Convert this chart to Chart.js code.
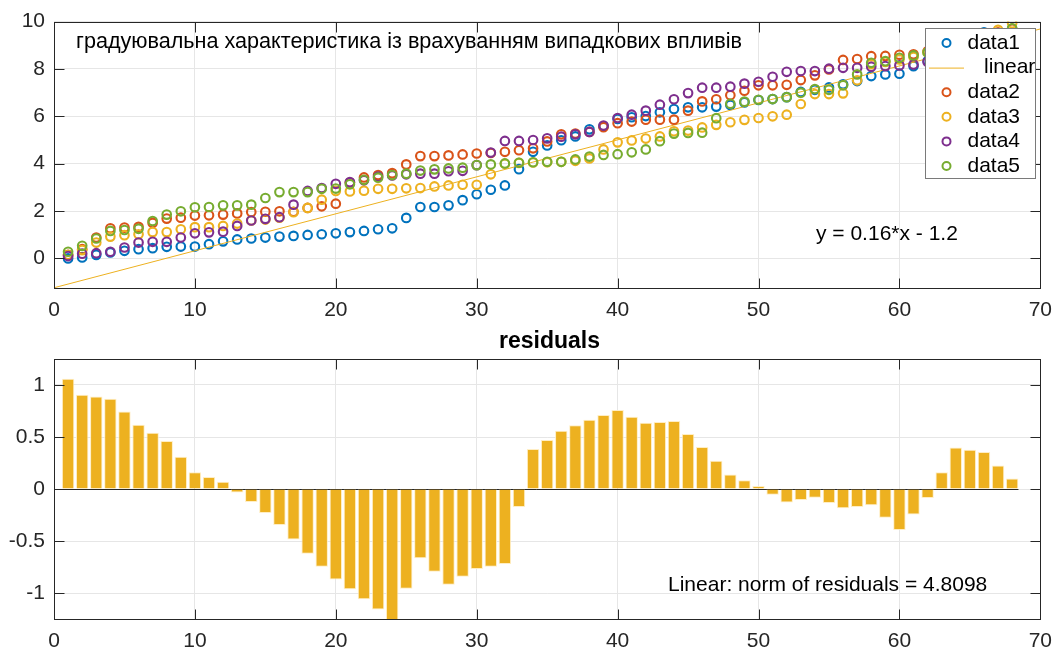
<!DOCTYPE html>
<html><head><meta charset="utf-8">
<script src="https://cdn.jsdelivr.net/npm/chart.js@4.4.1/dist/chart.umd.min.js"></script>
<style>
html,body{margin:0;padding:0;background:#fff;}
#wrap{position:relative;width:1062px;height:651px;overflow:hidden;}
#c1{position:absolute;left:0;top:0;}
#c2{position:absolute;left:0;top:330px;}
</style></head><body>
<div id="wrap"><canvas id="c1" width="1062" height="330"></canvas><canvas id="c2" width="1062" height="321"></canvas></div>
<script>
// ---------- data ----------
const xValues = [1,2,3,4,5,6,7,8,9,10,11,12,13,14,15,16,17,18,19,20,21,22,23,24,25,26,27,28,29,30,31,32,33,34,35,36,37,38,39,40,41,42,43,44,45,46,47,48,49,50,51,52,53,54,55,56,57,58,59,60,61,62,63,64,65,66,67,68];
const data1 = [0.00,0.04,0.15,0.25,0.32,0.39,0.43,0.49,0.50,0.50, 0.60,0.72,0.80,0.84,0.88,0.92,0.95,0.99,1.02,1.06, 1.11,1.16,1.23,1.27,1.71,2.17,2.17,2.24,2.46,2.71, 2.90,3.08,3.77,4.50,4.77,4.99,5.15,5.45,5.58,5.89, 5.96,6.01,6.17,6.31,6.38,6.38,6.41,6.48,6.59,6.69, 6.73,6.81,7.03,7.12,7.22,7.35,7.49,7.70,7.77,7.80, 8.12,8.34,8.75,9.14,9.28,9.55,9.45,9.47];
const data2 = [0.15,0.39,0.88,1.27,1.30,1.33,1.50,1.68,1.72,1.81, 1.82,1.85,1.90,1.96,1.97,1.99,1.97,2.13,2.20,2.31, 3.20,3.42,3.52,3.60,3.97,4.32,4.32,4.35,4.39,4.43, 4.45,4.50,4.57,4.65,4.94,5.24,5.27,5.34,5.54,5.71, 5.78,5.86,5.86,5.86,6.24,6.63,6.72,6.89,7.08,7.31, 7.31,7.33,7.53,7.73,7.98,8.38,8.42,8.54,8.55,8.60, 8.62,8.75,8.90,9.05,9.20,9.35,9.55,9.70];
const data3 = [0.14,0.35,0.67,0.92,0.98,1.02,1.11,1.11,1.23,1.32, 1.32,1.37,1.47,1.60,1.64,1.72,1.95,2.13,2.48,2.85, 2.83,2.86,2.94,2.94,2.96,2.97,3.04,3.08,3.11,3.11, 3.55,4.00,4.03,4.05,4.06,4.08,4.12,4.22,4.60,4.90, 4.98,5.06,5.15,5.37,5.40,5.53,5.64,5.75,5.85,5.93, 6.00,6.07,6.52,6.94,6.94,6.97,7.52,8.20,8.30,8.40, 8.50,8.70,8.90,9.10,9.30,9.45,9.65,9.93];
const data4 = [0.10,0.20,0.22,0.28,0.46,0.67,0.70,0.70,0.88,1.06, 1.10,1.13,1.37,1.60,1.67,1.74,2.27,2.85,2.97,3.15, 3.22,3.30,3.45,3.50,3.55,3.58,3.58,3.68,3.70,3.94, 4.47,4.96,4.96,5.00,5.07,5.14,5.24,5.34,5.61,5.93, 6.07,6.24,6.49,6.72,6.98,7.21,7.21,7.25,7.38,7.46, 7.67,7.88,7.91,7.91,8.01,8.05,8.05,8.09,8.12,8.15, 8.19,8.30,8.45,8.60,8.75,8.90,9.05,9.20];
const data5 = [0.28,0.53,0.84,1.16,1.20,1.25,1.58,1.85,1.99,2.16, 2.17,2.24,2.24,2.27,2.55,2.80,2.80,2.80,2.94,2.95, 3.13,3.32,3.41,3.52,3.58,3.71,3.76,3.80,3.83,3.94, 3.97,4.01,4.04,4.06,4.08,4.08,4.18,4.30,4.37,4.40, 4.48,4.60,4.95,5.27,5.30,5.31,5.92,6.53,6.62,6.70, 6.73,6.81,7.00,7.15,7.12,7.31,7.77,8.26,8.33,8.47, 8.57,8.70,8.85,9.00,9.15,9.30,9.50,9.72];
const linearX = [0, 70];
const linearY = [-1.24, 9.69];
const residuals = [1.06,0.907,0.89,0.868,0.746,0.618,0.541,0.461,0.31,0.16, 0.115,0.07,-0.033,-0.125,-0.23,-0.346,-0.486,-0.622,-0.747,-0.869, -0.965,-1.06,-1.158,-1.27,-0.959,-0.667,-0.795,-0.92,-0.843,-0.77, -0.747,-0.721,-0.173,0.385,0.471,0.56,0.612,0.666,0.711,0.76, 0.695,0.637,0.644,0.654,0.529,0.404,0.272,0.14,0.083,0.029, -0.055,-0.129,-0.106,-0.084,-0.135,-0.186,-0.173,-0.157,-0.276,-0.394, -0.244,-0.087,0.16,0.40,0.378,0.356,0.227,0.102];
const seriesNames = ['data1','linear','data2','data3','data4','data5'];
const xTicks = [0,10,20,30,40,50,60,70];
const yTicksTop = [0,2,4,6,8,10];
const yTicksBottom = [-1,-0.5,0,0.5,1];
const topTitle = 'градуювальна характеристика із врахуванням випадкових впливів';
const fitLabel = 'y = 0.16*x - 1.2';
const residTitle = 'residuals';
const normLabel = 'Linear: norm of residuals = 4.8098';

// ---------- styles ----------
const FONT = '"Liberation Sans", Arial, Helvetica, sans-serif';
const AX = '#262626';
const GRID = '#e6e6e6';
const colors = {data1:'#0072BD', linear:'#EDB120', data2:'#D95319', data3:'#EDB120', data4:'#7E2F8E', data5:'#77AC30'};
Chart.defaults.font.family = FONT;
Chart.defaults.font.size = 21;
Chart.defaults.color = AX;

const toPts = (ys) => ys.map((v,i)=>({x:xValues[i], y:v}));

function line(ctx,x1,y1,x2,y2){ctx.beginPath();ctx.moveTo(x1,y1);ctx.lineTo(x2,y2);ctx.stroke();}

const frame = {
  id:'frame',
  beforeDatasetsDraw(chart, args, opts){
    if(!opts.baseline) return;
    const {ctx, chartArea:a, scales:{x,y}} = chart;
    ctx.save();
    ctx.strokeStyle = AX; ctx.lineWidth = 1;
    const py = Math.round(y.getPixelForValue(0))+0.5;
    line(ctx, a.left, py, x.getPixelForValue(xValues[xValues.length-1]+0.45), py);
    ctx.restore();
  },
  afterDraw(chart, args, opts){
    const {ctx, chartArea:a, scales:{x,y}} = chart;
    ctx.save();
    ctx.strokeStyle = AX; ctx.lineWidth = 1;
    const L = Math.round(a.left)+0.5, R = Math.round(a.right)+0.5, T = Math.round(a.top)+0.5, B = Math.round(a.bottom)+0.5;
    const tl = 10;
    x.ticks.forEach(t=>{const px=Math.round(x.getPixelForValue(t.value))+0.5; line(ctx,px,B,px,B-tl); line(ctx,px,T,px,T+tl);});
    y.ticks.forEach(t=>{const py=Math.round(y.getPixelForValue(t.value))+0.5; line(ctx,L,py,L+tl,py); line(ctx,R,py,R-tl,py);});
    ctx.strokeRect(L,T,R-L,B-T);
    // texts
    ctx.fillStyle = '#000';
    ctx.textBaseline = 'middle';
    (opts.texts||[]).forEach(t=>{
      ctx.font = (t.bold?'bold ':'') + t.size + 'px ' + FONT;
      ctx.textAlign = t.align||'left';
      ctx.fillText(t.text, t.x, t.y);
    });
    // legend
    if(opts.legend){
      const lg = opts.legend;
      ctx.fillStyle = '#fff';
      ctx.fillRect(lg.x, lg.y, lg.w, lg.h);
      ctx.strokeStyle = '#7a7a7a'; ctx.lineWidth = 1;
      ctx.strokeRect(lg.x+0.5, lg.y+0.5, lg.w, lg.h);
      ctx.font = '21px ' + FONT;
      ctx.textAlign = 'left';
      seriesNames.forEach((n,i)=>{
        const cy = lg.y + 15 + i*24.6;
        const c = colors[n];
        if(n==='linear'){
          ctx.strokeStyle = c; ctx.lineWidth = 1;
          line(ctx, lg.x+4, cy+0.5, lg.x+39, cy+0.5);
          ctx.fillStyle = '#000';
          ctx.fillText(n, lg.x+59, cy);
        } else {
          ctx.strokeStyle = c; ctx.lineWidth = 2;
          ctx.beginPath(); ctx.arc(lg.x+21.5, cy, 4, 0, Math.PI*2); ctx.stroke();
          ctx.fillStyle = '#000';
          ctx.fillText(n, lg.x+42.5, cy);
        }
      });
    }
    ctx.restore();
  }
};

function fixTicks(list){ return function(scale){ scale.ticks = list.map(v=>({value:v})); }; }
const plainLabel = (v) => String(v);

const common = () => ({
  responsive:false, animation:false, events:[]
});

// ---------- top chart ----------
const ptStyle = (name, ord) => ({
  label:name, data: null, order: ord,
  borderColor: colors[name], backgroundColor:'rgba(0,0,0,0)',
  pointRadius:4.3, pointBorderWidth:2.1, pointHoverRadius:4.3, showLine:false
});
const dsTop = [
  Object.assign(ptStyle('data1',5), {data: toPts(data1)}),
  {label:'linear', order:4, data: linearX.map((v,i)=>({x:v,y:linearY[i]})), showLine:true, borderColor:colors.linear, borderWidth:1, pointRadius:0, backgroundColor:'rgba(0,0,0,0)'},
  Object.assign(ptStyle('data2',3), {data: toPts(data2)}),
  Object.assign(ptStyle('data3',2), {data: toPts(data3)}),
  Object.assign(ptStyle('data4',1), {data: toPts(data4)}),
  Object.assign(ptStyle('data5',0), {data: toPts(data5)}),
];

new Chart(document.getElementById('c1'), {
  type:'scatter',
  data:{datasets: dsTop},
  plugins:[frame],
  options: Object.assign(common(), {
    layout:{padding:{left:0, right:17, top:18, bottom:0}},
    plugins:{legend:{display:false}, tooltip:{enabled:false},
      frame:{
        texts:[
          {text: topTitle, x:76, y:42, size:21.6},
          {text: fitLabel, x:816, y:234, size:21}
        ],
        legend:{x:925, y:28, w:110, h:150}
      }
    },
    scales:{
      x:{type:'linear', min:0, max:70, afterBuildTicks: fixTicks(xTicks),
         afterFit(s){ s.height = 42; },
         grid:{color:GRID, drawTicks:false}, border:{display:false},
         ticks:{padding:10, maxRotation:0, autoSkip:false, color:AX, callback: plainLabel}},
      y:{type:'linear', min:-1.25, max:10, afterBuildTicks: fixTicks(yTicksTop),
         afterFit(s){ s.width = 54; },
         grid:{color:GRID, drawTicks:false}, border:{display:false},
         ticks:{padding:9, color:AX, callback: plainLabel}}
    }
  })
});

// ---------- bottom chart ----------
new Chart(document.getElementById('c2'), {
  type:'bar',
  data:{datasets:[{label:'residuals', data: toPts(residuals), backgroundColor:'#EDB120', borderColor:'rgba(255,236,190,0.9)', borderWidth:1, barPercentage:0.88, categoryPercentage:1}]},
  plugins:[frame],
  options: Object.assign(common(), {
    layout:{padding:{left:0, right:17, top:29, bottom:0}},
    plugins:{legend:{display:false}, tooltip:{enabled:false},
      frame:{
        baseline:true,
        texts:[
          {text: residTitle, x:549.5, y:12, size:23, bold:true, align:'center'},
          {text: normLabel, x:668, y:255, size:21}
        ]
      }
    },
    scales:{
      x:{type:'linear', min:0, max:70, offset:false, afterBuildTicks: fixTicks(xTicks),
         afterFit(s){ s.height = 32; },
         grid:{color:GRID, drawTicks:false, offset:false}, border:{display:false},
         ticks:{padding:10, maxRotation:0, autoSkip:false, color:AX, callback: plainLabel}},
      y:{type:'linear', min:-1.25, max:1.25, beginAtZero:false, afterBuildTicks: fixTicks(yTicksBottom),
         afterFit(s){ s.width = 54; },
         grid:{color:GRID, drawTicks:false}, border:{display:false},
         ticks:{padding:9, color:AX, callback: plainLabel}}
    }
  })
});
</script>
</body></html>
